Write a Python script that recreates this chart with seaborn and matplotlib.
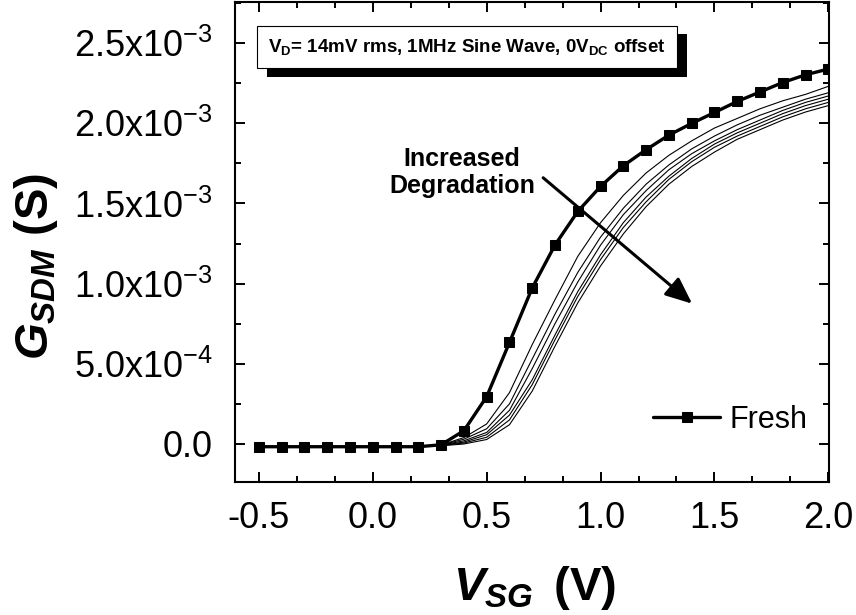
import numpy as np
import pandas as pd
import seaborn as sns
import matplotlib.pyplot as plt
from matplotlib import patheffects
from matplotlib.ticker import MultipleLocator, FuncFormatter

# gate voltage grid (V)
vsg = np.round(np.arange(-0.5, 2.01, 0.1), 1)

# conductance in mS (scaled to S below)
base = [-0.017] * 8
fresh = base + [-0.005, 0.083, 0.295, 0.633, 0.973, 1.241, 1.450, 1.606, 1.735,
                1.835, 1.926, 1.999, 2.067, 2.136, 2.195, 2.254, 2.302, 2.338]
deg1 = base + [-0.006, 0.040, 0.125, 0.32, 0.62, 0.90, 1.17, 1.38, 1.55,
               1.69, 1.80, 1.89, 1.97, 2.03, 2.09, 2.14, 2.18, 2.23]
deg2 = base + [-0.007, 0.030, 0.095, 0.25, 0.53, 0.81, 1.07, 1.29, 1.47,
               1.62, 1.74, 1.84, 1.92, 1.99, 2.05, 2.10, 2.15, 2.19]
deg3 = base + [-0.008, 0.020, 0.072, 0.21, 0.47, 0.75, 1.01, 1.24, 1.43,
               1.58, 1.71, 1.81, 1.89, 1.96, 2.02, 2.08, 2.13, 2.17]
deg4 = base + [-0.009, 0.012, 0.058, 0.18, 0.40, 0.68, 0.95, 1.18, 1.38,
               1.54, 1.67, 1.78, 1.87, 1.94, 2.00, 2.06, 2.11, 2.15]
deg5 = base + [-0.010, 0.006, 0.042, 0.15, 0.37, 0.65, 0.92, 1.15, 1.35,
               1.51, 1.65, 1.76, 1.85, 1.92, 1.98, 2.04, 2.09, 2.13]
deg6 = base + [-0.011, 0.000, 0.028, 0.12, 0.33, 0.61, 0.88, 1.11, 1.31,
               1.48, 1.62, 1.73, 1.82, 1.90, 1.96, 2.02, 2.07, 2.11]
degraded = [deg1, deg2, deg3, deg4, deg5, deg6]

rows = []
for i, curve in enumerate(degraded):
    for v, g in zip(vsg, curve):
        rows.append({'VSG': v, 'G': g * 1e-3, 'curve': i})
df_deg = pd.DataFrame(rows)
df_fresh = pd.DataFrame({'VSG': vsg, 'G': np.array(fresh) * 1e-3})

sns.set_theme(style='ticks')
plt.rcParams['font.family'] = ['Liberation Sans', 'DejaVu Sans']
plt.rcParams['text.color'] = 'black'
plt.rcParams['axes.labelcolor'] = 'black'
plt.rcParams['mathtext.fontset'] = 'custom'
plt.rcParams['mathtext.it'] = 'Liberation Sans:bold:italic'
plt.rcParams['mathtext.rm'] = 'Liberation Sans:bold'
plt.rcParams['mathtext.bf'] = 'Liberation Sans:bold'

fig = plt.figure(figsize=(8.56, 6.15), dpi=100)
ax = fig.add_axes([235 / 856, 1 - 482 / 615, 594 / 856, 480 / 615])

sns.lineplot(data=df_deg, x='VSG', y='G', units='curve', estimator=None,
             color='black', lw=0.8, ax=ax, legend=False)
sns.lineplot(data=df_fresh, x='VSG', y='G', color='black', lw=2.4,
             marker='s', markersize=7, markeredgecolor='black',
             label='Fresh', ax=ax)

ax.set_xlim(-0.605, 2.003)
ax.set_ylim(-0.237e-3, 2.756e-3)
ax.set_xticks([-0.5, 0.0, 0.5, 1.0, 1.5, 2.0])
ax.set_yticks([0, 0.5e-3, 1.0e-3, 1.5e-3, 2.0e-3, 2.5e-3])
ax.xaxis.set_minor_locator(MultipleLocator(1 / 6))
ax.yaxis.set_minor_locator(MultipleLocator(0.25e-3))


def sci_fmt(v, pos):
    if abs(v) < 1e-12:
        return '0.0'
    e = int(np.floor(np.log10(abs(v)) + 1e-9))
    m = v / 10 ** e
    return r'$\mathregular{%.1fx10^{%d}}$' % (m, e)


ax.yaxis.set_major_formatter(FuncFormatter(sci_fmt))
ax.xaxis.set_major_formatter(FuncFormatter(lambda v, p: f'{v:.1f}'))

ax.tick_params(which='both', direction='in', top=True, right=True,
               width=1.4, colors='black')
ax.tick_params(which='major', length=7)
ax.tick_params(which='minor', length=4.5)
ax.tick_params(axis='y', which='major', labelsize=26, pad=16)
ax.tick_params(axis='x', which='major', labelsize=26, pad=14)
for s in ax.spines.values():
    s.set_linewidth(1.5)
    s.set_color('black')

ax.set_xlabel(r'$V_{SG}\,$ (V)', fontsize=34, fontweight='bold')
ax.set_ylabel(r'$G_{SDM}$ (S)', fontsize=34, fontweight='bold')
ax.xaxis.set_label_coords(0.505, -0.17)
ax.yaxis.set_label_coords(-0.295, 0.45)

leg = ax.legend(loc='center right', bbox_to_anchor=(1.0, 0.13),
                frameon=False, fontsize=22, handlelength=2.2,
                handletextpad=0.3, borderpad=0.2)

# condition box with drop shadow
box = ax.text(0.391, 0.906,
              r'V$_\mathregular{D}$= 14mV rms, 1MHz Sine Wave, 0V$_\mathregular{DC}$ offset',
              transform=ax.transAxes, ha='center', va='center',
              fontsize=13.5, fontweight='bold',
              bbox=dict(boxstyle='square,pad=0.6', fc='white', ec='black', lw=0.8))
box.get_bbox_patch().set_path_effects(
    [patheffects.withSimplePatchShadow(offset=(7, -6), shadow_rgbFace='black', alpha=1.0)])

ax.text(0.392, 1.691e-3, 'Increased\nDegradation', ha='center', va='center',
        fontsize=18, fontweight='bold', linespacing=1.15)
ax.annotate('', xy=(1.402, 0.875e-3), xytext=(0.748, 1.66e-3),
            arrowprops=dict(arrowstyle='-|>,head_length=0.65,head_width=0.28',
                            lw=2.2, color='black', mutation_scale=25,
                            shrinkA=0, shrinkB=0))

fig.savefig('out.png', dpi=100)
